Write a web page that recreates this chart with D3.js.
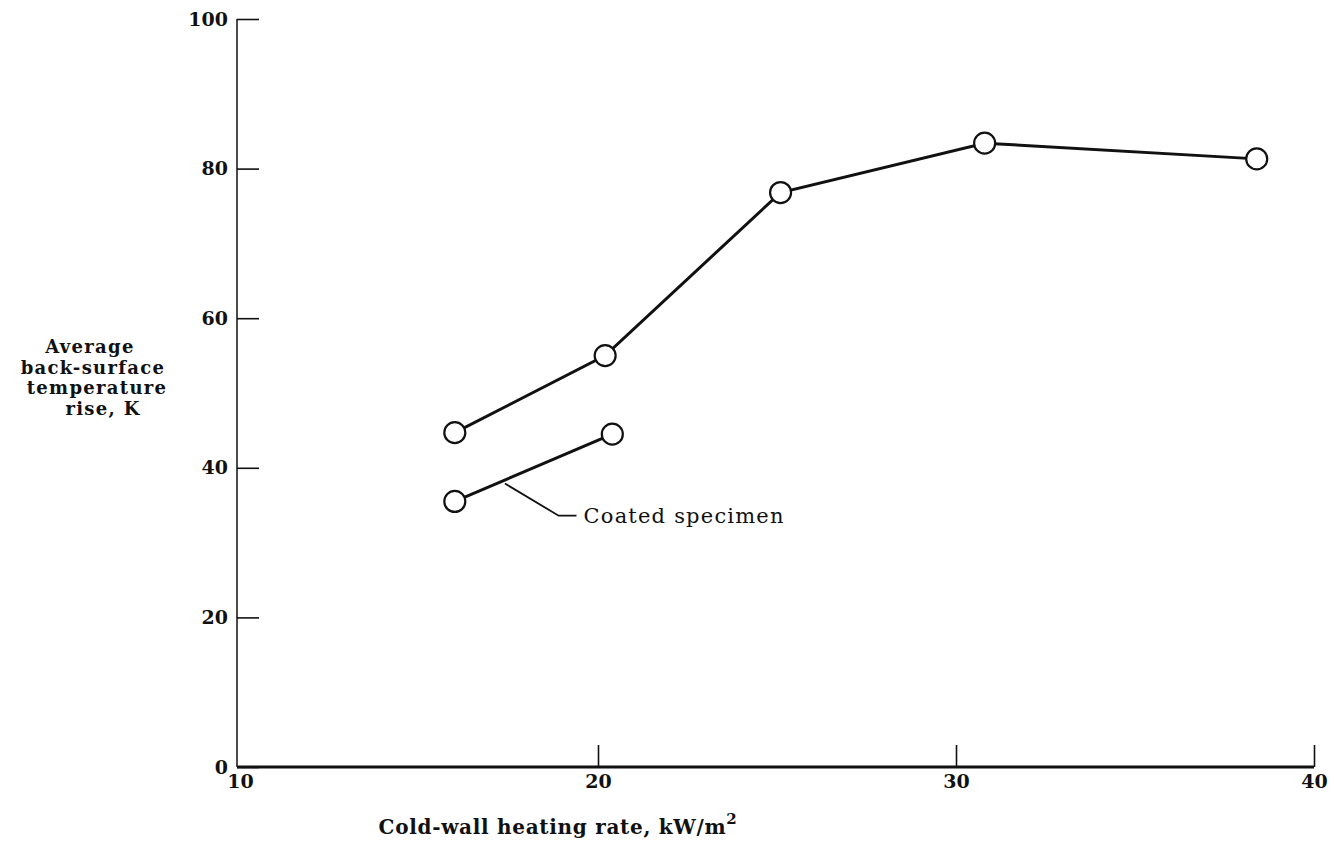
<!DOCTYPE html>
<html>
<head>
<meta charset="utf-8">
<script src="https://cdn.jsdelivr.net/npm/d3@7"></script>
<style>
  body { margin: 0; background: #fff; }
  text { font-family: "DejaVu Serif", "Liberation Serif", serif; fill: #111; }
</style>
</head>
<body>
<div class="chart"></div>
<script>
// data
var heatRate = [16.0, 20.2, 25.1, 30.8, 38.4];
var tempRise = [44.7, 55.0, 76.8, 83.4, 81.3];

var coatedRate = [16.0, 20.4];
var coatedRise = [35.5, 44.5];

var xTicks = [10, 20, 30, 40];
var yTicks = [0, 20, 40, 60, 80, 100];

var yLabelLines = ["Average", "back-surface", "temperature", "rise, K"];

var svgWidth = 1334;
var svgHeight = 854;

var svg = d3.select(".chart")
  .append("svg")
  .attr("width", svgWidth)
  .attr("height", svgHeight);

var xScale = d3.scaleLinear().domain([10, 40]).range([240, 1314]);
var yScale = d3.scaleLinear().domain([0, 100]).range([767, 19]);

var axisX = xScale(10) - 3;

// axes, ticks pointing inward
var bottomAxis = d3.axisBottom(xScale).tickValues(xTicks).tickSize(-22).tickFormat(d3.format("d"));
var leftAxis = d3.axisLeft(yScale).tickValues(yTicks).tickSize(-22).tickFormat(d3.format("d"));

var gx = svg.append("g")
  .attr("transform", `translate(0, ${yScale(0)})`)
  .call(bottomAxis);
gx.select(".domain").remove();
gx.selectAll(".tick line")
  .attr("stroke", "#111")
  .attr("stroke-width", 1.6)
  .attr("opacity", d => d === 10 ? 0 : 1);
gx.selectAll(".tick text")
  .attr("y", 8)
  .attr("dy", "0.71em")
  .style("font-size", "19px")
  .style("font-weight", "bold");

var gy = svg.append("g")
  .attr("transform", `translate(${axisX}, 0)`)
  .call(leftAxis);
gy.select(".domain").remove();
gy.selectAll(".tick line").attr("stroke", "#111").attr("stroke-width", 1.6);
gy.selectAll(".tick text")
  .attr("x", -9)
  .style("font-size", "19px")
  .style("font-weight", "bold");

// axis lines
svg.append("line")
  .attr("x1", axisX).attr("x2", axisX)
  .attr("y1", yScale(100)).attr("y2", yScale(0))
  .attr("stroke", "#111").attr("stroke-width", 1.5);

svg.append("line")
  .attr("x1", axisX).attr("x2", xScale(40))
  .attr("y1", yScale(0)).attr("y2", yScale(0))
  .attr("stroke", "#111").attr("stroke-width", 3);

// series
var line = d3.line()
  .x(d => xScale(d[0]))
  .y(d => yScale(d[1]));

var uncoated = heatRate.map((d, i) => [d, tempRise[i]]);
var coated = coatedRate.map((d, i) => [d, coatedRise[i]]);

[uncoated, coated].forEach(function(series) {
  svg.append("path")
    .datum(series)
    .attr("d", line)
    .attr("fill", "none")
    .attr("stroke", "#111")
    .attr("stroke-width", 3);

  svg.selectAll(null)
    .data(series)
    .enter()
    .append("circle")
    .attr("cx", d => xScale(d[0]))
    .attr("cy", d => yScale(d[1]))
    .attr("r", 10.5)
    .attr("fill", "#fff")
    .attr("stroke", "#111")
    .attr("stroke-width", 2.2);
});

// leader for coated specimen
var leader = [[17.4, 37.9], [18.9, 33.6], [19.4, 33.6]];
svg.append("path")
  .datum(leader)
  .attr("d", line)
  .attr("fill", "none")
  .attr("stroke", "#111")
  .attr("stroke-width", 1.8);

svg.append("text")
  .attr("x", xScale(19.4) + 7)
  .attr("y", yScale(33.6) + 7)
  .style("font-size", "21px")
  .style("letter-spacing", "1.2px")
  .text("Coated specimen");

// y label
svg.append("text")
  .attr("text-anchor", "middle")
  .style("font-size", "18px")
  .style("font-weight", "bold")
  .style("letter-spacing", "1.3px")
  .selectAll("tspan")
  .data(yLabelLines)
  .enter()
  .append("tspan")
  .attr("x", (d, i) => [90, 93, 97, 103][i])
  .attr("y", (d, i) => 353 + i * 20.5)
  .text(d => d);

// x label
var xl = svg.append("text")
  .attr("x", 558)
  .attr("y", 834)
  .attr("text-anchor", "middle")
  .style("font-size", "20px")
  .style("font-weight", "bold")
  .style("letter-spacing", "0.7px");
xl.append("tspan").text("Cold-wall heating rate, kW/m");
xl.append("tspan").attr("dy", -10).style("font-size", "15px").text("2");
</script>
</body>
</html>
